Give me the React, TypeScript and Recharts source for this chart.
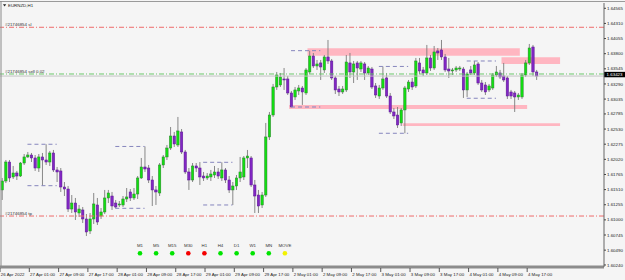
import React from 'react';
import { ComposedChart, Bar, XAxis, YAxis, ReferenceLine, ReferenceArea } from 'recharts';

const FONT = "'Liberation Sans', Arial, sans-serif";
const SLOTS = 165;

// EURNZD H1 candles, oldest first (26 Apr 17:00 .. 4 May 19:00)
const openPrices = [
  1.61504, 1.61655, 1.61975, 1.61723, 1.61790, 1.61739, 1.61958, 1.62060, 1.62093, 1.62043,
  1.61874, 1.62060, 1.62009, 1.61975, 1.62127, 1.61841, 1.61824, 1.61554, 1.61520, 1.61183,
  1.61284, 1.61116, 1.61167, 1.61015, 1.60813, 1.61015, 1.61251, 1.61065, 1.61133, 1.61369,
  1.61402, 1.61284, 1.61251, 1.61251, 1.61352, 1.61470, 1.61369, 1.61436, 1.61706, 1.61891,
  1.61874, 1.61672, 1.61504, 1.61453, 1.61925, 1.62060, 1.62211, 1.62413, 1.62262, 1.62481,
  1.62144, 1.61807, 1.61672, 1.61908, 1.61874, 1.61739, 1.61706, 1.61723, 1.61756, 1.61807,
  1.61706, 1.61841, 1.61672, 1.61504, 1.61571, 1.61706, 1.61723, 1.62043, 1.62043, 1.61588,
  1.61419, 1.61251, 1.61419, 1.62397, 1.62767, 1.63239, 1.63273, 1.63374, 1.63374, 1.63138,
  1.63071, 1.63172, 1.63222, 1.63138, 1.63492, 1.63761, 1.63593, 1.63644, 1.63526, 1.63745,
  1.63677, 1.63391, 1.63205, 1.63155, 1.63189, 1.63644, 1.63492, 1.63644, 1.63542, 1.63627,
  1.63475, 1.63542, 1.63256, 1.63087, 1.63222, 1.63391, 1.63087, 1.62818, 1.62767, 1.62633,
  1.62852, 1.63205, 1.63323, 1.63256, 1.63644, 1.63526, 1.63475, 1.63728, 1.63559, 1.63846,
  1.63863, 1.63745, 1.63542, 1.63509, 1.63526, 1.63542, 1.63542, 1.63189, 1.63526, 1.63475,
  1.63627, 1.63306, 1.63273, 1.63189, 1.63222, 1.63441, 1.63475, 1.63424, 1.63391, 1.63155,
  1.63138, 1.63071, 1.63071, 1.63441, 1.63644, 1.63913, 1.63492,
];

const highPrices = [
  1.61706, 1.62009, 1.62009, 1.61908, 1.61824, 1.61975, 1.62110, 1.62144, 1.62127, 1.62093,
  1.62110, 1.62127, 1.62274, 1.62161, 1.62178, 1.61891, 1.61874, 1.61638, 1.61571, 1.61419,
  1.61369, 1.61251, 1.61217, 1.61099, 1.61116, 1.61453, 1.61369, 1.61200, 1.61504, 1.61504,
  1.61470, 1.61335, 1.61318, 1.61402, 1.61537, 1.61520, 1.61537, 1.61739, 1.62043, 1.62237,
  1.61925, 1.61739, 1.61571, 1.61958, 1.62093, 1.62262, 1.62565, 1.62481, 1.62734, 1.62531,
  1.62178, 1.61874, 1.61958, 1.61958, 1.61975, 1.61807, 1.61790, 1.61841, 1.61908, 1.61874,
  1.61970, 1.61874, 1.61739, 1.61638, 1.61756, 1.62060, 1.62076, 1.62178, 1.62076, 1.61672,
  1.61504, 1.61470, 1.62633, 1.62818, 1.63290, 1.63492, 1.63475, 1.63559, 1.63424, 1.63172,
  1.63239, 1.63273, 1.63256, 1.63559, 1.63851, 1.63812, 1.63694, 1.63694, 1.63778, 1.64031,
  1.63711, 1.63424, 1.63256, 1.63256, 1.63778, 1.63812, 1.63677, 1.63677, 1.63677, 1.63660,
  1.63593, 1.63576, 1.63306, 1.63273, 1.63585, 1.63475, 1.63138, 1.62885, 1.62902, 1.62885,
  1.63256, 1.63357, 1.63391, 1.63728, 1.63728, 1.63576, 1.63947, 1.63778, 1.63930, 1.63896,
  1.64031, 1.63795, 1.63728, 1.63559, 1.63593, 1.63593, 1.63576, 1.63492, 1.63593, 1.63677,
  1.63660, 1.63357, 1.63323, 1.63290, 1.63475, 1.63593, 1.63526, 1.63644, 1.63424, 1.63189,
  1.63172, 1.63138, 1.63475, 1.63694, 1.63964, 1.63947, 1.63526,
];

const lowPrices = [
  1.61335, 1.61621, 1.61638, 1.61689, 1.61672, 1.61723, 1.61925, 1.62043, 1.61975, 1.61824,
  1.61807, 1.61576, 1.61925, 1.61908, 1.61807, 1.61638, 1.61470, 1.61402, 1.61133, 1.61116,
  1.60998, 1.61049, 1.60947, 1.60728, 1.60762, 1.60931, 1.60914, 1.61015, 1.61099, 1.61284,
  1.61167, 1.61195, 1.61217, 1.61217, 1.61301, 1.61318, 1.61335, 1.61352, 1.61689, 1.61807,
  1.61621, 1.61234, 1.61251, 1.61402, 1.61874, 1.62009, 1.62178, 1.62228, 1.62228, 1.62110,
  1.61773, 1.61504, 1.61638, 1.61807, 1.61588, 1.61655, 1.61672, 1.61655, 1.61706, 1.61689,
  1.61655, 1.61621, 1.61453, 1.61251, 1.61504, 1.61638, 1.61672, 1.61874, 1.61554, 1.61116,
  1.61116, 1.61200, 1.61386, 1.62346, 1.62734, 1.63189, 1.63239, 1.63189, 1.63104, 1.62902,
  1.63020, 1.63104, 1.62936, 1.63104, 1.63458, 1.63559, 1.63526, 1.63357, 1.63475, 1.63627,
  1.63357, 1.63121, 1.63087, 1.63121, 1.63155, 1.63391, 1.63306, 1.63357, 1.63492, 1.63357,
  1.63441, 1.63205, 1.63054, 1.63037, 1.63189, 1.63054, 1.62784, 1.62700, 1.62548, 1.62582,
  1.62459, 1.63155, 1.63189, 1.63222, 1.63458, 1.63424, 1.63441, 1.63509, 1.63526, 1.63694,
  1.63694, 1.63492, 1.63391, 1.63441, 1.63492, 1.63509, 1.63054, 1.63071, 1.63441, 1.63441,
  1.63273, 1.63155, 1.63104, 1.63155, 1.63189, 1.63408, 1.63374, 1.63323, 1.63037, 1.63037,
  1.62818, 1.63020, 1.63037, 1.63408, 1.63610, 1.63424, 1.63357,
];

const closePrices = [
  1.61655, 1.61975, 1.61706, 1.61790, 1.61739, 1.61958, 1.62060, 1.62093, 1.62043, 1.61874,
  1.62060, 1.62009, 1.61975, 1.62127, 1.61841, 1.61807, 1.61554, 1.61520, 1.61183, 1.61284,
  1.61133, 1.61183, 1.61015, 1.60796, 1.61015, 1.61268, 1.60964, 1.61133, 1.61369, 1.61453,
  1.61234, 1.61217, 1.61268, 1.61352, 1.61386, 1.61369, 1.61436, 1.61706, 1.61891, 1.61857,
  1.61672, 1.61504, 1.61470, 1.61925, 1.62060, 1.62211, 1.62413, 1.62279, 1.62498, 1.62144,
  1.61807, 1.61672, 1.61908, 1.61874, 1.61723, 1.61706, 1.61739, 1.61773, 1.61807, 1.61739,
  1.61841, 1.61672, 1.61504, 1.61571, 1.61706, 1.61807, 1.62043, 1.62076, 1.61588, 1.61402,
  1.61234, 1.61419, 1.62397, 1.62767, 1.63239, 1.63441, 1.63408, 1.63357, 1.63138, 1.62902,
  1.63189, 1.63222, 1.63155, 1.63526, 1.63761, 1.63593, 1.63627, 1.63576, 1.63745, 1.63677,
  1.63391, 1.63189, 1.63155, 1.63205, 1.63660, 1.63492, 1.63627, 1.63559, 1.63644, 1.63475,
  1.63559, 1.63239, 1.63104, 1.63222, 1.63374, 1.63087, 1.62818, 1.62751, 1.62599, 1.62852,
  1.63222, 1.63323, 1.63239, 1.63677, 1.63509, 1.63475, 1.63728, 1.63559, 1.63829, 1.63812,
  1.63745, 1.63526, 1.63509, 1.63526, 1.63559, 1.63559, 1.63189, 1.63458, 1.63475, 1.63610,
  1.63306, 1.63189, 1.63155, 1.63256, 1.63441, 1.63492, 1.63408, 1.63357, 1.63087, 1.63087,
  1.63071, 1.63104, 1.63441, 1.63644, 1.63896, 1.63492, 1.63423,
];

const priceTicks = [
  1.64565, 1.6431, 1.64055, 1.638, 1.63545, 1.6329, 1.63035, 1.62785, 1.6253,
  1.62275, 1.6202, 1.61765, 1.6151, 1.61255, 1.61, 1.60745, 1.6049, 1.6024,
];

const timeLabels: Record<number, string> = {
  0: '26 Apr 2022', 8: '27 Apr 01:00', 16: '27 Apr 09:00', 24: '27 Apr 17:00',
  32: '28 Apr 01:00', 40: '28 Apr 09:00', 48: '28 Apr 17:00', 56: '29 Apr 01:00',
  64: '29 Apr 09:00', 72: '29 Apr 17:00', 80: '2 May 01:00', 88: '2 May 09:00',
  96: '2 May 17:00', 104: '3 May 01:00', 112: '3 May 09:00', 120: '3 May 17:00',
  128: '4 May 01:00', 136: '4 May 09:00', 144: '4 May 17:00',
};

// supply / demand rectangles (bar index range, price range)
const zones = [
  { from: 84, to: 141, top: 1.63891, bottom: 1.63766 },
  { from: 137, to: 152, top: 1.6374, bottom: 1.63627 },
  { from: 79, to: 143, top: 1.62936, bottom: 1.62868 },
  { from: 110, to: 152, top: 1.62627, bottom: 1.62582 },
];

// asian session high/low boxes
const sessionBoxes = [
  { from: 7, to: 15, high: 1.62274, low: 1.61576 },
  { from: 31, to: 39, high: 1.62237, low: 1.61195 },
  { from: 55, to: 63, high: 1.6197, low: 1.61251 },
  { from: 79, to: 87, high: 1.63851, low: 1.62902 },
  { from: 103, to: 111, high: 1.63585, low: 1.62459 },
  { from: 127, to: 135, high: 1.63677, low: 1.63049 },
];

const orderLevels = [
  { price: 1.64245, text: '#21746854 sl', color: '#ee6b6b' },
  { price: 1.63458, text: '#21746854 sell 0.02', color: '#6cc86c' },
  { price: 1.61065, text: '#21746854 tp', color: '#ee6b6b' },
];

const bidPrice = 1.63423;

const tfNames = ['M1', 'M5', 'M15', 'M30', 'H1', 'H4', 'D1', 'W1', 'MN', 'MOVE'];
const tfStates = ['up', 'up', 'up', 'down', 'down', 'up', 'up', 'up', 'up', 'flat'];
const stateColor: Record<string, string> = { up: '#00e400', down: '#f40000', flat: '#f2f200' };

const data = Array.from({ length: SLOTS }, (_, i) =>
  i < openPrices.length
    ? { i, o: openPrices[i], h: highPrices[i], l: lowPrices[i], c: closePrices[i], hl: [lowPrices[i], highPrices[i]] }
    : { i, hl: null }
);

function Candle(props: any) {
  const { x, y, width, height, payload } = props;
  if (!payload || payload.o == null) return null;
  const top = Math.min(y, y + height);
  const bottom = Math.max(y, y + height);
  const span = payload.h - payload.l || 1e-9;
  const py = (p: number) => top + ((payload.h - p) / span) * (bottom - top);
  const cx = x + width / 2;
  const up = payload.c >= payload.o;
  const bTop = py(Math.max(payload.o, payload.c));
  const bBot = py(Math.min(payload.o, payload.c));
  return (
    <g>
      <line x1={cx} x2={cx} y1={top} y2={bottom} stroke="#7c7c7c" strokeWidth={0.9} />
      <rect
        x={x}
        y={bTop}
        width={width}
        height={Math.max(bBot - bTop, 0.8)}
        fill={up ? '#10e010' : '#8226c4'}
        stroke={up ? '#2f7f2f' : '#5a1890'}
        strokeWidth={0.5}
      />
    </g>
  );
}

function TimeTick(props: any) {
  const { x, y, payload } = props;
  const label = timeLabels[payload.value];
  if (!label) return null;
  return (
    <g>
      <line x1={x - 1.8} x2={x - 1.8} y1={y - 7} y2={y - 3} stroke="#333" strokeWidth={0.8} />
      <text x={x - 1} y={y + 0.8} fontSize={4.4} fill="#222" fontFamily={FONT}>{label}</text>
    </g>
  );
}

const orderLabel = (text: string) => (props: any) => {
  const vb = props.viewBox;
  if (!vb) return null;
  return (
    <text x={vb.x + 5} y={vb.y - 1.3} fontSize={4.4} fill="#333" fontFamily={FONT}>{text}</text>
  );
};

const bidLabel = (props: any) => {
  const vb = props.viewBox;
  if (!vb) return null;
  const right = vb.x + vb.width;
  const cy = vb.y - 1.5;
  return (
    <g>
      <rect x={right} y={cy - 2.7} width={21} height={5.4} fill="#000" />
      <text x={right + 2.6} y={cy + 1.5} fontSize={4.4} fill="#fff" fontFamily={FONT}>{bidPrice.toFixed(5)}</text>
    </g>
  );
};

export default function App() {
  return (
    <div style={{ position: 'absolute', left: 0, top: 0, width: 625, height: 280, background: '#f5f5f5', overflow: 'hidden' }}>
      <ComposedChart width={625} height={280} data={data} margin={{ top: 3, right: 0, bottom: 0, left: 0 }}>
        {zones.map((z, n) => (
          <ReferenceArea key={'zone' + n} x1={z.from} x2={z.to} y1={z.bottom} y2={z.top} fill="#ffb6c1" fillOpacity={1} stroke="none" />
        ))}
        {orderLevels.map((o, n) => (
          <ReferenceLine key={'order' + n} y={o.price} stroke={o.color} strokeDasharray="5 2 1 2" label={orderLabel(o.text)} />
        ))}
        {sessionBoxes.map((b, n) => (
          <ReferenceLine key={'hi' + n} segment={[{ x: b.from, y: b.high }, { x: b.to, y: b.high }]} stroke="#8585bd" strokeDasharray="4 3" />
        ))}
        {sessionBoxes.map((b, n) => (
          <ReferenceLine key={'lo' + n} segment={[{ x: b.from, y: b.low }, { x: b.to, y: b.low }]} stroke="#8585bd" strokeDasharray="4 3" />
        ))}
        <XAxis
          dataKey="i"
          interval={0}
          tickLine={false}
          axisLine={{ stroke: '#8c8c8c', strokeWidth: 3 }}
          tick={<TimeTick />}
          height={13}
        />
        <YAxis
          orientation="right"
          width={21}
          domain={[1.60206, 1.64654]}
          allowDataOverflow
          ticks={priceTicks}
          interval={0}
          tickSize={2}
          tickMargin={1}
          tickLine={{ stroke: '#444' }}
          axisLine={{ stroke: '#666' }}
          tick={{ fontSize: 4.4, fill: '#1a1a1a', fontFamily: FONT }}
          tickFormatter={(v: number) => v.toFixed(5)}
        />
        <Bar dataKey="hl" barSize={2.4} shape={<Candle />} isAnimationActive={false} />
        <ReferenceLine y={bidPrice} stroke="#c4c4c4" label={bidLabel} />
      </ComposedChart>
      <svg width={625} height={280} style={{ position: 'absolute', left: 0, top: 0, pointerEvents: 'none' }}>
        <line x1={0} x2={625} y1={1.5} y2={1.5} stroke="#9a9a9a" />
        <line x1={1} x2={1} y1={1} y2={266} stroke="#8a8a8a" />
        <polygon points="3,4.3 6.2,4.3 4.6,6.6" fill="#222" />
        <text x={8} y={6.8} fontSize={4.4} fill="#222" fontFamily={FONT}>EURNZD,H1</text>
        {tfNames.map((name, n) => (
          <g key={name}>
            <text x={140 + n * 16.1} y={246.5} fontSize={4.4} fill="#333" textAnchor="middle" fontFamily={FONT}>{name}</text>
            <circle cx={140 + n * 16.1} cy={253.3} r={2.3} fill={stateColor[tfStates[n]]} />
          </g>
        ))}
      </svg>
    </div>
  );
}
